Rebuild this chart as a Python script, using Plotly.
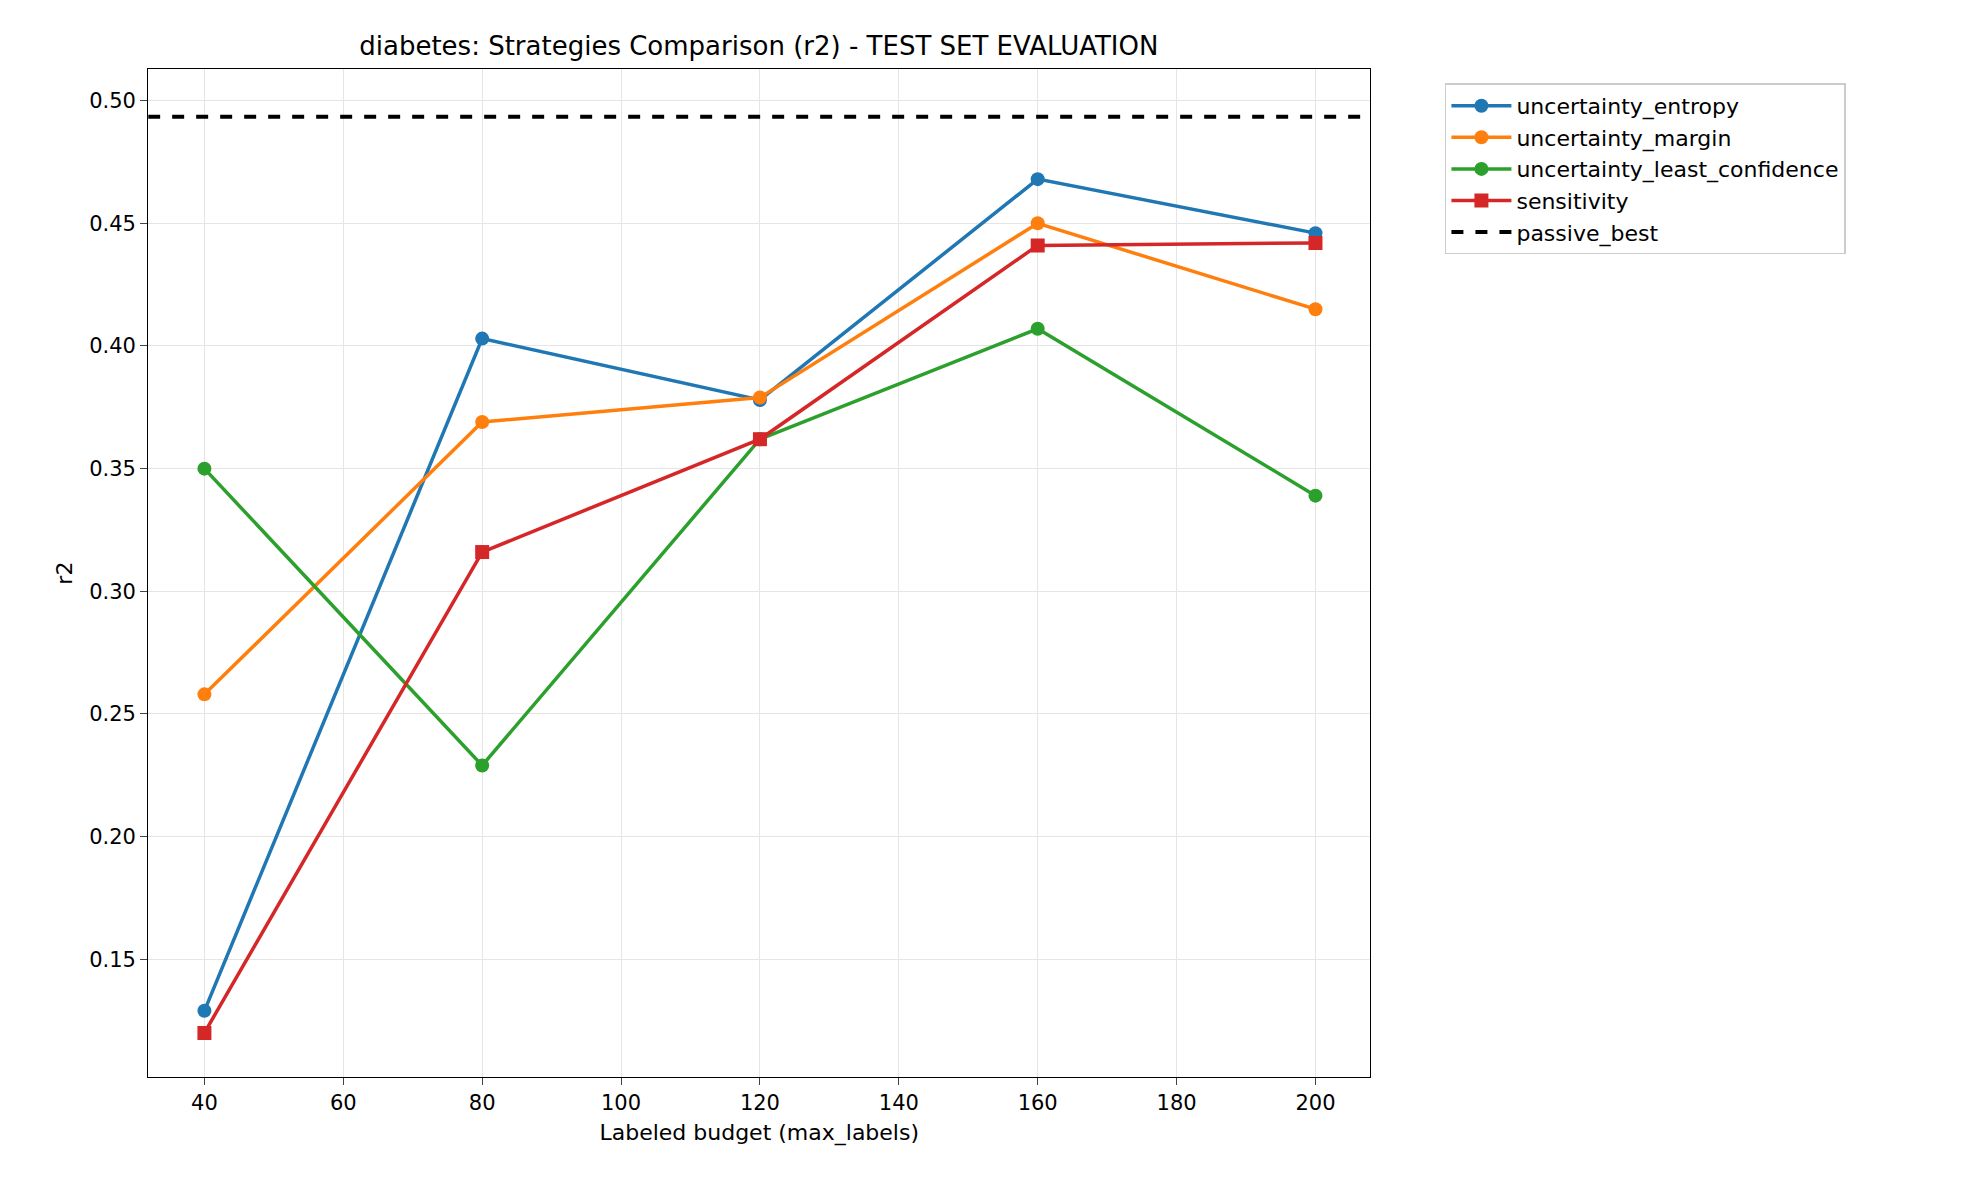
import plotly.graph_objects as go

budgets = [40, 80, 120, 160, 200]
entropy = [0.129, 0.403, 0.378, 0.468, 0.446]
margin = [0.258, 0.369, 0.379, 0.450, 0.415]
least_conf = [0.350, 0.229, 0.362, 0.407, 0.339]
sensitivity = [0.120, 0.316, 0.362, 0.441, 0.442]
passive_best = 0.4934
yticks = [0.15, 0.20, 0.25, 0.30, 0.35, 0.40, 0.45, 0.50]

fig = go.Figure()
series = [("uncertainty_entropy", entropy, "#1f77b4", "circle"),
          ("uncertainty_margin", margin, "#ff7f0e", "circle"),
          ("uncertainty_least_confidence", least_conf, "#2ca02c", "circle"),
          ("sensitivity", sensitivity, "#d62728", "square")]
for name, vals, c, sym in series:
    fig.add_trace(go.Scatter(x=budgets, y=vals, name=name, mode="lines+markers",
                             line=dict(color=c, width=3.5),
                             marker=dict(symbol=sym, size=14, color=c)))
fig.add_trace(go.Scatter(x=[31.9, 207.9], y=[passive_best, passive_best], name="passive_best",
                         mode="lines", line=dict(color="black", width=4, dash="dash")))

ax = dict(showline=True, linecolor="black", mirror=True, ticks="outside", ticklen=7,
          gridcolor="#e5e5e5", zeroline=False, tickfont=dict(size=21, color="black"))
fig.update_layout(
    width=1963, height=1178, plot_bgcolor="white", paper_bgcolor="white",
    font=dict(family="DejaVu Sans", color="black"),
    margin=dict(l=0, r=0, t=0, b=0),
    title=dict(text="diabetes: Strategies Comparison (r2) - TEST SET EVALUATION",
               x=0.3825, xanchor="center", y=0.96, yanchor="bottom", font=dict(size=26)),
    xaxis=dict(domain=[0.0714, 0.694], range=[31.9, 207.9], tickvals=[40, 60, 80, 100, 120, 140, 160, 180, 200],
               title=dict(text="Labeled budget (max_labels)", font=dict(size=22), standoff=10), **ax),
    yaxis=dict(domain=[0.0925, 0.948], range=[0.102, 0.5128], tickvals=yticks,
               tickformat=".2f", title=dict(text="r2", font=dict(size=22), standoff=10), **ax),
    legend=dict(x=0.732, y=0.936, xanchor="left", yanchor="top", bordercolor="#cccccc",
                borderwidth=1.5, font=dict(size=22), tracegroupgap=6, itemwidth=60),
)
fig.write_html("out.html")
